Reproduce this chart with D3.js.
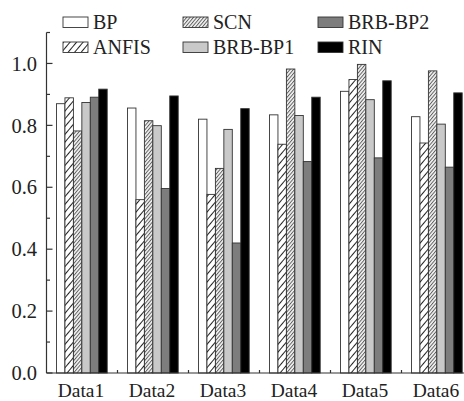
<!DOCTYPE html>
<html>
<head>
<meta charset="utf-8">
<script src="https://cdn.jsdelivr.net/npm/d3@7/dist/d3.min.js"></script>
<style>
  html, body { margin: 0; padding: 0; background: #fff; }
  svg { display: block; }
  svg text { fill: #222; }
</style>
</head>
<body>
<svg id="chart" width="464" height="401"></svg>
<script>
const categories = ["Data1", "Data2", "Data3", "Data4", "Data5", "Data6"];
const seriesNames = ["BP", "ANFIS", "SCN", "BRB-BP1", "BRB-BP2", "RIN"];
const bpValues     = [0.870, 0.856, 0.820, 0.834, 0.910, 0.828];
const anfisValues  = [0.889, 0.560, 0.577, 0.739, 0.948, 0.743];
const scnValues    = [0.782, 0.815, 0.661, 0.982, 0.997, 0.976];
const brbbp1Values = [0.874, 0.799, 0.787, 0.832, 0.883, 0.804];
const brbbp2Values = [0.891, 0.596, 0.420, 0.683, 0.695, 0.665];
const rinValues    = [0.917, 0.895, 0.854, 0.891, 0.944, 0.905];
const yMajorTicks = [0.0, 0.2, 0.4, 0.6, 0.8, 1.0];
const yMinorTicks = [0.1, 0.3, 0.5, 0.7, 0.9];

const seriesValues = [bpValues, anfisValues, scnValues, brbbp1Values, brbbp2Values, rinValues];
const fills = ["#ffffff", "url(#hatchWide)", "url(#hatchDense)", "#c9c9c9", "#7d7d7d", "#000000"];
const FONT = "'Liberation Serif', 'Times New Roman', serif";

const svg = d3.select("#chart");
const defs = svg.append("defs");

const pWide = defs.append("pattern").attr("id", "hatchWide")
  .attr("patternUnits", "userSpaceOnUse").attr("width", 5).attr("height", 5)
  .attr("patternTransform", "rotate(40)");
pWide.append("rect").attr("width", 5).attr("height", 5).attr("fill", "#fff");
pWide.append("line").attr("x1", 0.5).attr("y1", 0).attr("x2", 0.5).attr("y2", 5)
  .attr("stroke", "#222").attr("stroke-width", 1);

const pDense = defs.append("pattern").attr("id", "hatchDense")
  .attr("patternUnits", "userSpaceOnUse").attr("width", 2.6).attr("height", 2.6)
  .attr("patternTransform", "rotate(40)");
pDense.append("rect").attr("width", 2.6).attr("height", 2.6).attr("fill", "#f2f2f2");
pDense.append("line").attr("x1", 0.5).attr("y1", 0).attr("x2", 0.5).attr("y2", 2.6)
  .attr("stroke", "#555").attr("stroke-width", 0.9);

const axisX0 = 46.5, axisBottom = 373, axisTop = 32.5;
const x0 = d3.scaleBand().domain(categories).range([axisX0, axisX0 + 71 * categories.length]).padding(0);
const x1 = d3.scaleBand().domain(seriesNames).range([10, 60.7]).padding(0);
const y = d3.scaleLinear().domain([0, 1.1]).range([axisBottom, axisTop]);

// bars
const groups = svg.append("g").selectAll("g").data(categories).join("g")
  .attr("transform", d => `translate(${x0(d)},0)`);
groups.selectAll("rect")
  .data((c, ci) => seriesNames.map((s, si) => ({ s, si, v: seriesValues[si][ci] })))
  .join("rect")
  .attr("x", d => x1(d.s))
  .attr("y", d => y(d.v))
  .attr("width", x1.bandwidth())
  .attr("height", d => y(0) - y(d.v))
  .attr("fill", d => fills[d.si])
  .attr("stroke", "#333")
  .attr("stroke-width", 0.9);

// y axis
const yAxis = svg.append("g").attr("stroke", "#333");
yAxis.append("line").attr("x1", axisX0).attr("x2", axisX0).attr("y1", axisTop).attr("y2", axisBottom).attr("stroke-width", 1.2);
yAxis.selectAll("line.maj").data(yMajorTicks).join("line").attr("class", "maj")
  .attr("x1", axisX0).attr("x2", axisX0 + 6).attr("y1", d => y(d)).attr("y2", d => y(d)).attr("stroke-width", 1.2);
yAxis.selectAll("line.min").data(yMinorTicks.concat([1.1])).join("line").attr("class", "min")
  .attr("x1", axisX0).attr("x2", axisX0 + 3.5).attr("y1", d => y(d)).attr("y2", d => y(d)).attr("stroke-width", 1.2);
svg.append("g").selectAll("text").data(yMajorTicks).join("text")
  .attr("x", 37).attr("y", d => y(d)).attr("dy", "0.35em")
  .attr("text-anchor", "end").attr("font-size", 20.5).attr("font-family", FONT)
  .text(d => d3.format(".1f")(d));

// x axis
const xAxis = svg.append("g").attr("stroke", "#333");
xAxis.append("line").attr("x1", axisX0).attr("x2", axisX0 + 71 * categories.length)
  .attr("y1", axisBottom).attr("y2", axisBottom).attr("stroke-width", 1.2);
xAxis.selectAll("line.t").data(categories).join("line").attr("class", "t")
  .attr("x1", d => x0(d) + x0.bandwidth()).attr("x2", d => x0(d) + x0.bandwidth())
  .attr("y1", axisBottom).attr("y2", axisBottom - 3).attr("stroke-width", 1.2);
svg.append("g").selectAll("text").data(categories).join("text")
  .attr("x", d => x0(d) + x0.bandwidth() / 2 - 1).attr("y", 397)
  .attr("text-anchor", "middle").attr("font-size", 19.5).attr("font-family", FONT)
  .text(d => d);

// legend
const legCols = [63, 183, 318];
const legRows = [17, 42];
const leg = svg.append("g").selectAll("g").data(seriesNames).join("g")
  .attr("transform", (d, i) => `translate(${legCols[Math.floor(i / 2)]},${legRows[i % 2]})`);
leg.append("rect").attr("width", 25).attr("height", 10.5)
  .attr("fill", (d, i) => fills[i]).attr("stroke", "#333").attr("stroke-width", 0.9);
leg.append("text").attr("x", 30).attr("y", 11.5).attr("font-size", 20).attr("font-family", FONT).text(d => d);
</script>
</body>
</html>
